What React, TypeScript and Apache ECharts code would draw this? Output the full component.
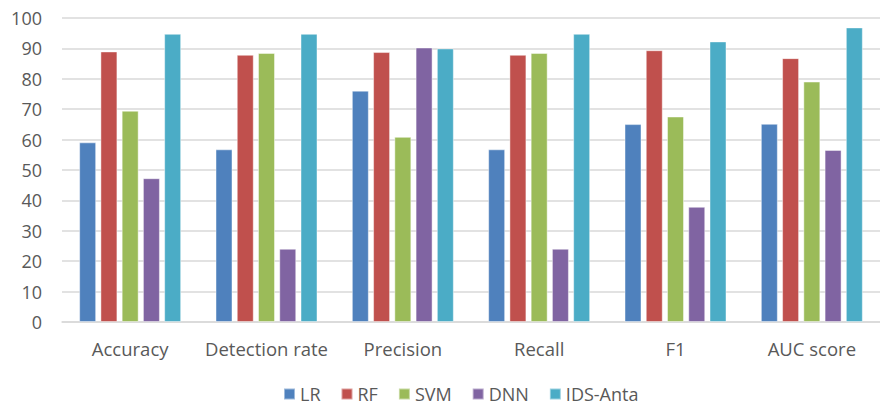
import React, { useEffect, useRef } from "react";
import * as echarts from "echarts";

const categories = ["Accuracy", "Detection rate", "Precision", "Recall", "F1", "AUC score"];
const seriesNames = ["LR", "RF", "SVM", "DNN", "IDS-Anta"];
const lrValues = [59.1, 56.8, 76.1, 56.8, 65.1, 65.2];
const rfValues = [89.0, 87.9, 88.8, 87.9, 89.4, 86.8];
const svmValues = [69.5, 88.5, 60.9, 88.5, 67.6, 79.1];
const dnnValues = [47.3, 24.1, 90.3, 24.1, 37.9, 56.6];
const idsValues = [94.8, 94.8, 90.0, 94.8, 92.3, 96.9];
const colors = ["#4F81BD", "#C0504D", "#9BBB59", "#8064A2", "#4BACC6"];

export default function App() {
  const ref = useRef<HTMLDivElement>(null);
  useEffect(() => {
    if (!ref.current) return;
    const chart = echarts.init(ref.current, undefined, { renderer: "svg" });
    const data = [lrValues, rfValues, svmValues, dnnValues, idsValues];
    const font = "'Open Sans', sans-serif";
    chart.setOption({
      animation: false,
      textStyle: { fontFamily: font },
      grid: { left: 62, top: 18, width: 832, height: 304, containLabel: false },
      legend: {
        left: 283,
        top: 385,
        padding: 0,
        itemWidth: 11,
        itemHeight: 11,
        itemGap: 20,
        icon: "rect",
        textStyle: { color: "#595959", fontSize: 18, lineHeight: 17, fontFamily: font },
        data: seriesNames,
      },
      xAxis: {
        type: "category",
        data: categories,
        axisLine: { show: true, lineStyle: { color: "#D9D9D9", width: 1.5 } },
        axisTick: { show: false },
        axisLabel: { color: "#595959", fontSize: 18.5, margin: 17, fontFamily: font, interval: 0 },
      },
      yAxis: {
        type: "value",
        min: 0,
        max: 100,
        interval: 10,
        axisLine: { show: false },
        axisTick: { show: false },
        axisLabel: { color: "#595959", fontSize: 18, margin: 20, fontFamily: font },
        splitLine: { lineStyle: { color: "#D9D9D9", width: 1.5 } },
      },
      series: seriesNames.map((name, i) => ({
        name,
        type: "bar",
        data: data[i],
        barWidth: 17,
        barGap: "25%",
        itemStyle: { color: colors[i], borderColor: "rgba(255,255,255,0.45)", borderWidth: 1 },
      })),
    });
    return () => chart.dispose();
  }, []);
  return <div ref={ref} style={{ width: 880, height: 407, position: "absolute", left: 0, top: 0 }} />;
}
